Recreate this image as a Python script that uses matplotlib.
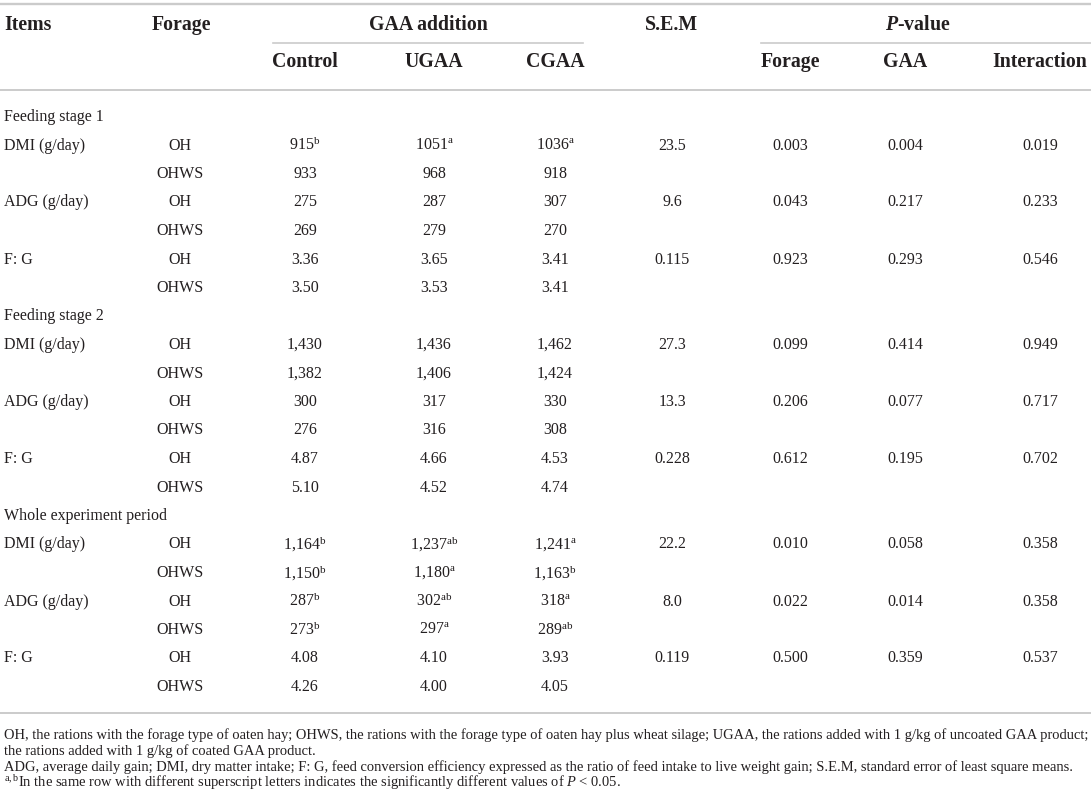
import matplotlib
matplotlib.use('Agg')
import matplotlib.pyplot as plt

plt.rcParams['font.family'] = 'Liberation Serif'
plt.rcParams['mathtext.fontset'] = 'custom'
plt.rcParams['mathtext.rm'] = 'Liberation Serif'
plt.rcParams['mathtext.it'] = 'Liberation Serif:italic'
plt.rcParams['mathtext.bf'] = 'Liberation Serif:bold'
plt.rcParams['mathtext.bfit'] = 'Liberation Serif:italic:bold'

# table content
stages = ['Feeding stage 1', 'Feeding stage 2', 'Whole experiment period']
items = ['DMI (g/day)', 'ADG (g/day)', 'F: G']
forages = ['OH', 'OHWS']
gaa_groups = ['Control', 'UGAA', 'CGAA']
p_groups = ['Forage', 'GAA', 'Interaction']

control = [['915', '933', '275', '269', '3.36', '3.50'],
           ['1,430', '1,382', '300', '276', '4.87', '5.10'],
           ['1,164', '1,150', '287', '273', '4.08', '4.26']]
ugaa = [['1051', '968', '287', '279', '3.65', '3.53'],
        ['1,436', '1,406', '317', '316', '4.66', '4.52'],
        ['1,237', '1,180', '302', '297', '4.10', '4.00']]
cgaa = [['1036', '918', '307', '270', '3.41', '3.41'],
        ['1,462', '1,424', '330', '308', '4.53', '4.74'],
        ['1,241', '1,163', '318', '289', '3.93', '4.05']]
control_sup = [['b', '', '', '', '', ''],
               ['', '', '', '', '', ''],
               ['b', 'b', 'b', 'b', '', '']]
ugaa_sup = [['a', '', '', '', '', ''],
            ['', '', '', '', '', ''],
            ['ab', 'a', 'ab', 'a', '', '']]
cgaa_sup = [['a', '', '', '', '', ''],
            ['', '', '', '', '', ''],
            ['a', 'b', 'a', 'ab', '', '']]
sem = [['23.5', '9.6', '0.115'],
       ['27.3', '13.3', '0.228'],
       ['22.2', '8.0', '0.119']]
p_forage = [['0.003', '0.043', '0.923'],
            ['0.099', '0.206', '0.612'],
            ['0.010', '0.022', '0.500']]
p_gaa = [['0.004', '0.217', '0.293'],
         ['0.414', '0.077', '0.195'],
         ['0.058', '0.014', '0.359']]
p_inter = [['0.019', '0.233', '0.546'],
           ['0.949', '0.717', '0.702'],
           ['0.358', '0.358', '0.537']]

footnotes = [
    'OH, the rations with the forage type of oaten hay; OHWS, the rations with the forage type of oaten hay plus '
    'wheat silage; UGAA, the rations added with 1 g/kg of uncoated GAA product;',
    'the rations added with 1 g/kg of coated GAA product.',
    'ADG, average daily gain; DMI, dry matter intake; F: G, feed conversion efficiency expressed as the ratio of '
    'feed intake to live weight gain; S.E.M, standard error of least square means.',
    r'$^{\mathrm{a,b}}$In the same row with different superscript letters indicates the significantly different '
    r'values of $\mathit{P}$ < 0.05.',
]

# layout (pixels)
W, H = 1091, 802
ink = '#231f20'
rule = '#cbcbcb'
x_forage = 180
x_gaa = [305, 434, 555]
x_sem = 672
x_p = [790, 905, 1040]
y_head1, y_head2 = 25, 62
y_row0, row_step = 117, 28.5
body_fs, head_fs = 11.5, 14.3


def sup(v, s):
    return v + (r'$^{\mathrm{%s}}$' % s if s else '')


fig = plt.figure(figsize=(W / 100, H / 100), dpi=100)
ax = fig.add_axes([0, 0, 1, 1])
ax.set_xlim(0, W)
ax.set_ylim(H, 0)
ax.axis('off')

# rules
ax.plot([0, W], [4, 4], color=rule, lw=1.7)
ax.plot([273, 583], [43, 43], color=rule, lw=1.2)
ax.plot([761, W], [43, 43], color=rule, lw=1.2)
ax.plot([0, W], [90, 90], color=rule, lw=1.4)
ax.plot([0, W], [713, 713], color=rule, lw=1.4)

# header
hd = dict(fontsize=head_fs, fontweight='bold', color=ink, va='center')
ax.text(4, y_head1, 'Items', ha='left', **hd)
ax.text(152, y_head1, 'Forage', ha='left', **hd)
ax.text(428, y_head1, 'GAA addition', ha='center', **hd)
ax.text(x_sem, y_head1, 'S.E.M', ha='center', **hd)
ax.text(918, y_head1, r'$\mathbfit{P}$-value', ha='center', **hd)
for x, lab in zip(x_gaa, gaa_groups):
    ax.text(x, y_head2, lab, ha='center', **hd)
for x, lab in zip(x_p, p_groups):
    ax.text(x, y_head2, lab, ha='center', **hd)

# body
bd = dict(fontsize=body_fs, color=ink, va='center')
row = 0
for s, stage in enumerate(stages):
    ax.text(4, y_row0 + row * row_step, stage, ha='left', **bd)
    row += 1
    for i, item in enumerate(items):
        y = y_row0 + row * row_step
        ax.text(4, y, item, ha='left', **bd)
        ax.text(x_sem, y, sem[s][i], ha='center', **bd)
        for x, col in zip(x_p, (p_forage, p_gaa, p_inter)):
            ax.text(x, y, col[s][i], ha='center', **bd)
        for f, forage in enumerate(forages):
            k = 2 * i + f
            y = y_row0 + row * row_step
            ax.text(x_forage, y, forage, ha='center', **bd)
            ax.text(x_gaa[0], y, sup(control[s][k], control_sup[s][k]), ha='center', **bd)
            ax.text(x_gaa[1], y, sup(ugaa[s][k], ugaa_sup[s][k]), ha='center', **bd)
            ax.text(x_gaa[2], y, sup(cgaa[s][k], cgaa_sup[s][k]), ha='center', **bd)
            row += 1

# footnotes: fit the first line to the table width
renderer = fig.canvas.get_renderer()
probe = ax.text(4, 735, footnotes[0], fontsize=12, ha='left', va='center', color=ink)
width = probe.get_window_extent(renderer).width
probe.remove()
foot_fs = 12 * (1083 / width)
for line, y in zip(footnotes, [735, 751, 767, 783]):
    ax.text(4, y, line, fontsize=foot_fs, ha='left', va='center', color=ink)

fig.savefig('out.png', dpi=100)
